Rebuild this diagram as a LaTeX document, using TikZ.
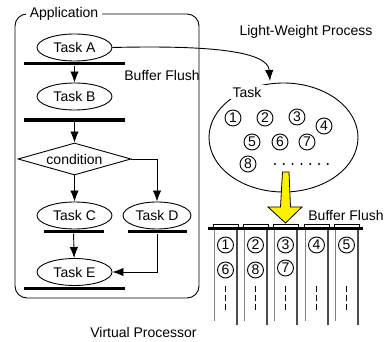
\documentclass[tikz,border=0pt]{standalone}
\usepackage{fontspec}
\setmainfont{Liberation Sans}
\usetikzlibrary{shapes.geometric,arrows.meta}

\begin{document}
\begin{tikzpicture}[x=1pt, y=-1pt, line width=0.9pt,
    every node/.style={font=\fontsize{14}{16}\selectfont},
    task/.style={ellipse, draw, inner sep=0pt, minimum width=75pt, minimum height=27pt},
    flushbar/.style={rectangle, fill=black, inner sep=0pt, minimum height=3.5pt},
    tid/.style={circle, draw, inner sep=0pt, minimum size=16pt},
    flow/.style={-{Latex[length=11pt,width=8.5pt]}}]
  \useasboundingbox (0,0) rectangle (389,342);

  % Application frame
  \draw[rounded corners=12pt] (15,14) rectangle (199,298);
  \node[fill=white, inner xsep=4pt, inner ysep=1pt] (app) at (64,14) {Application};

  % Tasks and buffer flushes
  \node[task] (taskA) at (74.5,47.5) {Task A};
  \node[flushbar, minimum width=101pt] (barA) at (74.5,63.5) {};
  \node[task] (taskB) at (74.5,96.5) {Task B};
  \node[flushbar, minimum width=101pt] (barB) at (74.5,120) {};
  \node[diamond, draw, aspect=3.5, inner sep=0pt, minimum width=113pt, minimum height=32pt]
    (cond) at (74.5,159) {condition};
  \node[task] (taskC) at (74.5,215.5) {Task C};
  \node[task, minimum width=68pt] (taskD) at (157,215.5) {Task D};
  \node[flushbar, minimum width=60pt] (barC) at (73.5,231.5) {};
  \node[flushbar, minimum width=59pt] (barD) at (157.5,231.5) {};
  \node[task] (taskE) at (74.5,272) {Task E};
  \node[flushbar, minimum width=101pt] (barE) at (74.5,288.5) {};
  \node (flushL) at (162,75) {Buffer Flush};

  % Control flow
  \draw[flow] (barA) -- (taskB);
  \draw[flow] (barB) -- (cond);
  \draw[flow] (cond) -- (taskC);
  \draw[flow] (cond.east) -| (taskD.north);
  \draw[flow] (barC) -- (taskE);
  \draw[flow] (barD.south) |- (taskE.east);

  % Light-weight process
  \node (lwplbl) at (306,32) {Light-Weight Process};
  \node[ellipse, draw, inner sep=0pt, minimum width=149pt, minimum height=109pt] (lwp) at (283.5,137.5) {};
  \node[fill=white, inner xsep=4pt, inner ysep=2pt] (tasklbl) at (247,92) {Task};
  \coordinate (lwpin) at (270,81);
  \draw[flow] (taskA.east) .. controls (215,45) and (268,52) .. (lwpin);

  \node[tid] (t1) at (233,118) {1};
  \node[tid] (t2) at (265,118) {2};
  \node[tid] (t3) at (297,117) {3};
  \node[tid] (t4) at (324,126) {4};
  \node[tid] (t5) at (252,142) {5};
  \node[tid] (t6) at (280,142) {6};
  \node[tid] (t7) at (307,142) {7};
  \node[tid] (t8) at (248,164) {8};
  \foreach \i in {0,...,6}
    \fill (275+8.8*\i,164) circle (1.1pt);

  % Dispatch arrow
  \draw[fill=yellow, line width=0.8pt] (282.5,172) -- (289,172) -- (290.5,207) -- (302,207)
    -- (285.5,223) -- (268,207) -- (280.5,207) -- cycle;

  % Virtual processors
  \node (flushR) at (346,215) {Buffer Flush};
  \foreach \xl in {214,244,274,305,335} {
    \draw[line width=0.8pt] (\xl-1,224.5) rectangle (\xl+24,228);
    \draw[gray, line width=0.8pt] (\xl,228) -- (\xl,321);
    \draw[black!70, line width=1.6pt] (\xl+23,228) -- (\xl+23,325);
    \draw[dash pattern=on 6pt off 3pt] (\xl+11.5,286) -- (\xl+11.5,311);
  }
  \draw[line width=3.5pt] (208,228.5) -- (363,228.5);

  \node[tid] (v1) at (225.5,245) {1};
  \node[tid] (v6) at (225.5,270) {6};
  \node[tid] (v2) at (255.5,245) {2};
  \node[tid] (v8) at (255.5,270) {8};
  \node[tid] (v3) at (285.5,245) {3};
  \node[tid] (v7) at (285.5,268) {7};
  \node[tid] (v4) at (316.5,245) {4};
  \node[tid] (v5) at (346.5,245) {5};
  \node (vp) at (143.5,332) {Virtual Processor};
\end{tikzpicture}
\end{document}
